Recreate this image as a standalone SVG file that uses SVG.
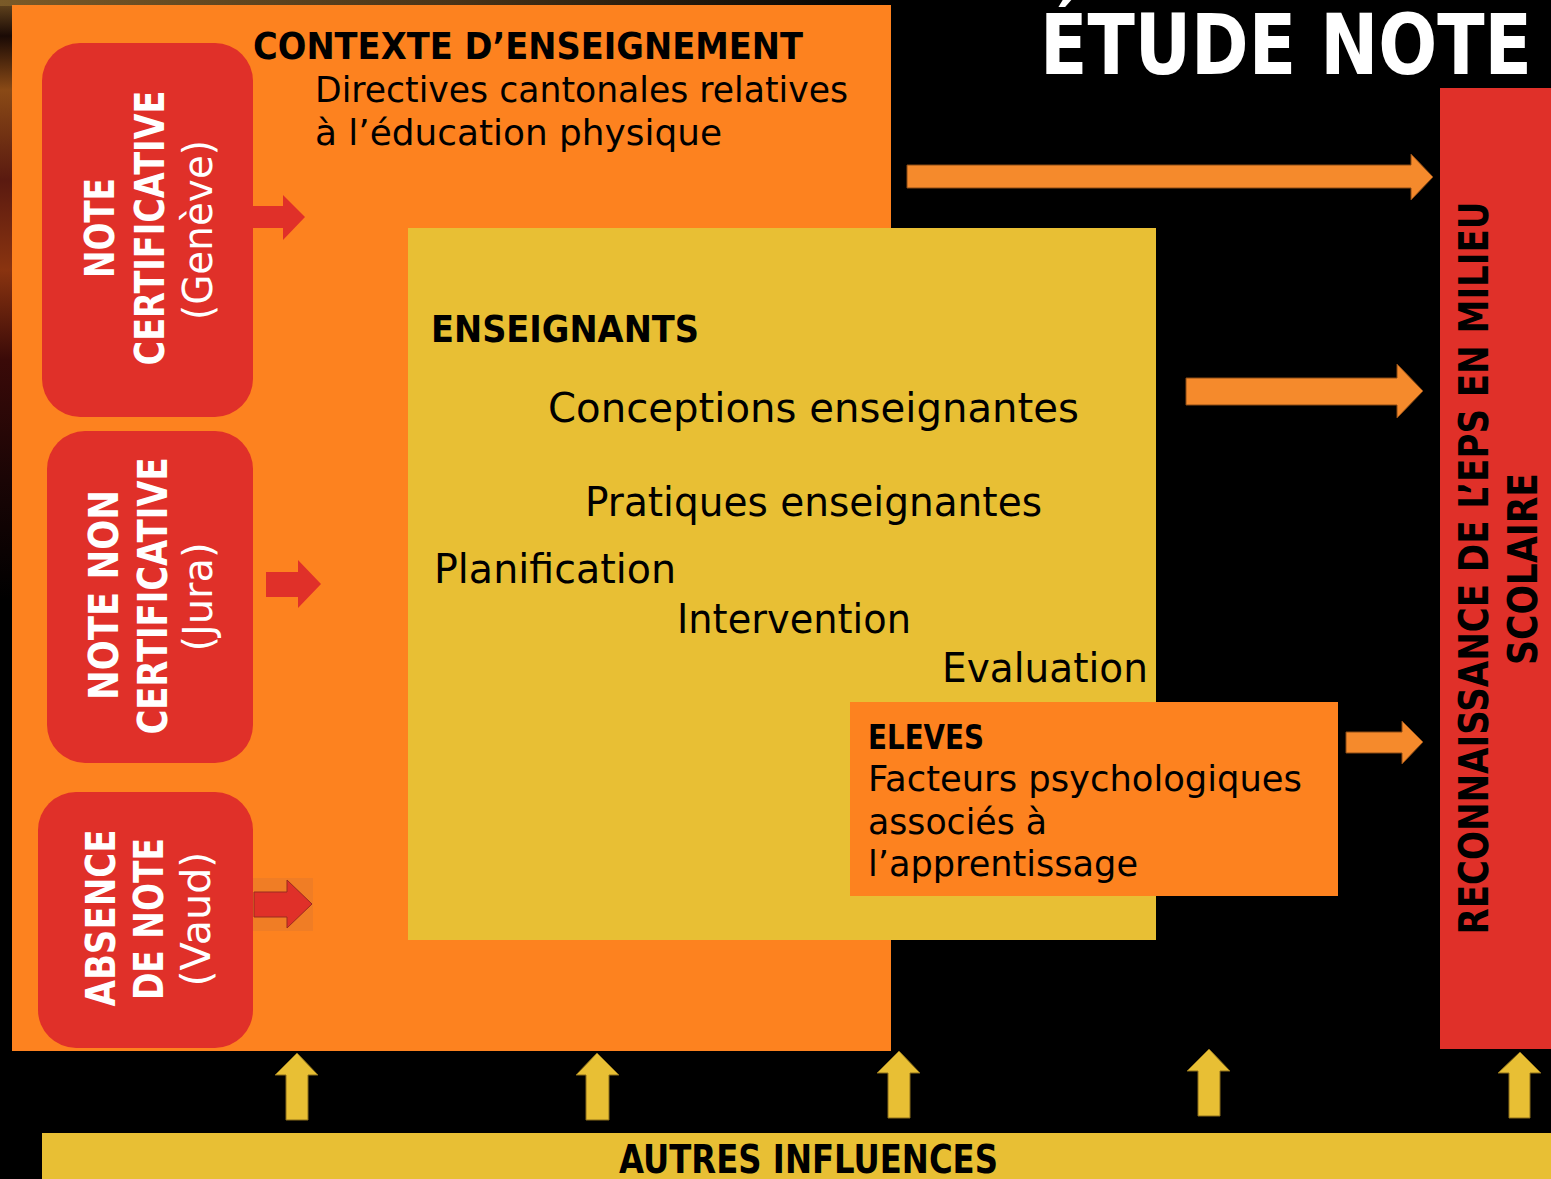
<svg xmlns="http://www.w3.org/2000/svg" width="1551" height="1179" viewBox="0 0 1551 1179">
<style>
.b{font-family:"DejaVu Sans","Liberation Sans",sans-serif;font-weight:bold}
.r{font-family:"DejaVu Sans","Liberation Sans",sans-serif;font-weight:normal}
.w{fill:#FFFFFF}
.k{fill:#000000}
.redbox{fill:#E03029}
.ra{fill:#E03029}
.oa{fill:#F58A2C;stroke:#8A4A15;stroke-width:1}
.ya{fill:#E8BF34;stroke:#8A6D1A;stroke-width:1}
</style>
<defs>
<linearGradient id="bgL" x1="0" y1="0" x2="0" y2="1">
<stop offset="0" stop-color="#6a4a20"/>
<stop offset="0.06" stop-color="#1a0a05"/>
<stop offset="0.15" stop-color="#8a4a16"/>
<stop offset="0.3" stop-color="#5a1a10"/>
<stop offset="0.45" stop-color="#8a3410"/>
<stop offset="0.6" stop-color="#3a0a08"/>
<stop offset="0.8" stop-color="#1a0505"/>
<stop offset="1" stop-color="#000000"/>
</linearGradient>
<linearGradient id="bgT" x1="0" y1="0" x2="1" y2="0">
<stop offset="0" stop-color="#7a5a28"/>
<stop offset="0.5" stop-color="#4a3418"/>
<stop offset="1" stop-color="#000000"/>
</linearGradient>
</defs>
<rect x="0" y="0" width="1551" height="1179" fill="#000000"/>
<rect x="0" y="0" width="12" height="600" fill="url(#bgL)"/>
<rect x="0" y="0" width="900" height="6" fill="url(#bgT)"/>

<g id="title">
<text class="b w" x="1040" y="74" font-size="84" textLength="492" lengthAdjust="spacingAndGlyphs">ÉTUDE NOTE</text>
</g>

<g id="contexte">
<rect x="12" y="5" width="879" height="1046" fill="#FD821F"/>
<text class="b k" x="253" y="59" font-size="38" textLength="550" lengthAdjust="spacingAndGlyphs">CONTEXTE D’ENSEIGNEMENT</text>
<text class="r k" x="315" y="102" font-size="35" textLength="533" lengthAdjust="spacingAndGlyphs">Directives cantonales relatives</text>
<text class="r k" x="315" y="145" font-size="35" textLength="407" lengthAdjust="spacingAndGlyphs">à l’éducation physique</text>
</g>

<g id="enseignants">
<rect x="408" y="228" width="748" height="712" fill="#E8BF34"/>
<text class="b k" x="431" y="342" font-size="38" textLength="268" lengthAdjust="spacingAndGlyphs">ENSEIGNANTS</text>
<text class="r k" x="548" y="422" font-size="40" textLength="531" lengthAdjust="spacingAndGlyphs">Conceptions enseignantes</text>
<text class="r k" x="585" y="516" font-size="40" textLength="457" lengthAdjust="spacingAndGlyphs">Pratiques enseignantes</text>
<text class="r k" x="434" y="583" font-size="40" textLength="242" lengthAdjust="spacingAndGlyphs">Planification</text>
<text class="r k" x="677" y="633" font-size="40" textLength="234" lengthAdjust="spacingAndGlyphs">Intervention</text>
<text class="r k" x="942" y="682" font-size="40" textLength="206" lengthAdjust="spacingAndGlyphs">Evaluation</text>
</g>

<g id="eleves">
<rect x="850" y="702" width="488" height="194" fill="#FD821F"/>
<text class="b k" x="868" y="749" font-size="34" textLength="116" lengthAdjust="spacingAndGlyphs">ELEVES</text>
<text class="r k" x="868" y="791" font-size="36" textLength="434" lengthAdjust="spacingAndGlyphs">Facteurs psychologiques</text>
<text class="r k" x="868" y="834" font-size="36" textLength="179" lengthAdjust="spacingAndGlyphs">associés à</text>
<text class="r k" x="868" y="876" font-size="36" textLength="270" lengthAdjust="spacingAndGlyphs">l’apprentissage</text>
</g>

<g id="geneve">
<rect class="redbox" x="42" y="43" width="211" height="374" rx="38"/>
<text class="b w" transform="translate(114,228) rotate(-90)" text-anchor="middle" font-size="40" textLength="100" lengthAdjust="spacingAndGlyphs">NOTE</text>
<text class="b w" transform="translate(164,228) rotate(-90)" text-anchor="middle" font-size="40" textLength="275" lengthAdjust="spacingAndGlyphs">CERTIFICATIVE</text>
<text class="r w" transform="translate(212,230) rotate(-90)" text-anchor="middle" font-size="40" textLength="180" lengthAdjust="spacingAndGlyphs">(Genève)</text>
</g>

<g id="jura">
<rect class="redbox" x="47" y="431" width="206" height="332" rx="38"/>
<text class="b w" transform="translate(118,595) rotate(-90)" text-anchor="middle" font-size="40" textLength="210" lengthAdjust="spacingAndGlyphs">NOTE NON</text>
<text class="b w" transform="translate(167,596) rotate(-90)" text-anchor="middle" font-size="40" textLength="277" lengthAdjust="spacingAndGlyphs">CERTIFICATIVE</text>
<text class="r w" transform="translate(212,597) rotate(-90)" text-anchor="middle" font-size="40" textLength="109" lengthAdjust="spacingAndGlyphs">(Jura)</text>
</g>

<g id="vaud">
<rect class="redbox" x="38" y="792" width="215" height="256" rx="38"/>
<text class="b w" transform="translate(115,918) rotate(-90)" text-anchor="middle" font-size="40" textLength="177" lengthAdjust="spacingAndGlyphs">ABSENCE</text>
<text class="b w" transform="translate(163,919) rotate(-90)" text-anchor="middle" font-size="40" textLength="162" lengthAdjust="spacingAndGlyphs">DE NOTE</text>
<text class="r w" transform="translate(210,919) rotate(-90)" text-anchor="middle" font-size="40" textLength="135" lengthAdjust="spacingAndGlyphs">(Vaud)</text>
</g>

<g id="reconnaissance">
<rect class="redbox" x="1440" y="88" width="111" height="961"/>
<text class="b k" transform="translate(1488,568) rotate(-90)" text-anchor="middle" font-size="41" textLength="733" lengthAdjust="spacingAndGlyphs">RECONNAISSANCE DE L’EPS EN MILIEU</text>
<text class="b k" transform="translate(1537,569) rotate(-90)" text-anchor="middle" font-size="41" textLength="192" lengthAdjust="spacingAndGlyphs">SCOLAIRE</text>
</g>

<g id="autres">
<rect x="42" y="1133" width="1509" height="46" fill="#E8BF34"/>
<text class="b k" x="619" y="1173" font-size="39" textLength="379" lengthAdjust="spacingAndGlyphs">AUTRES INFLUENCES</text>
</g>

<g id="connectors">
<polygon class="ra" points="253,206 283,206 283,195 305,217 283,240 283,228 253,228"/>
<polygon class="ra" points="266,572 298,572 298,560 321,584 298,608 298,597 266,597"/>
<rect x="253" y="878" width="60" height="53" fill="#F07D25"/>
<polygon class="ra" points="254,892 287,892 287,880 312,904 287,928 287,917 254,917" stroke="#9A2A20" stroke-width="1"/>
<polygon class="oa" points="907,165 1411,165 1411,154 1433,177 1411,200 1411,188 907,188"/>
<polygon class="oa" points="1186,378 1397,378 1397,364 1423,391 1397,418 1397,405 1186,405"/>
<polygon class="oa" points="1346,732 1402,732 1402,721 1423,742 1402,764 1402,753 1346,753"/>
<polygon class="ya" points="286,1120 286,1075 275,1075 297,1053 318,1075 308,1075 308,1120"/>
<polygon class="ya" points="586,1120 586,1075 576,1075 597,1053 619,1075 609,1075 609,1120"/>
<polygon class="ya" points="888,1118 888,1073 877,1073 899,1051 920,1073 910,1073 910,1118"/>
<polygon class="ya" points="1198,1116 1198,1071 1187,1071 1209,1049 1230,1071 1220,1071 1220,1116"/>
<polygon class="ya" points="1509,1118 1509,1073 1498,1073 1520,1052 1541,1073 1530,1073 1530,1118"/>
</g>
</svg>
